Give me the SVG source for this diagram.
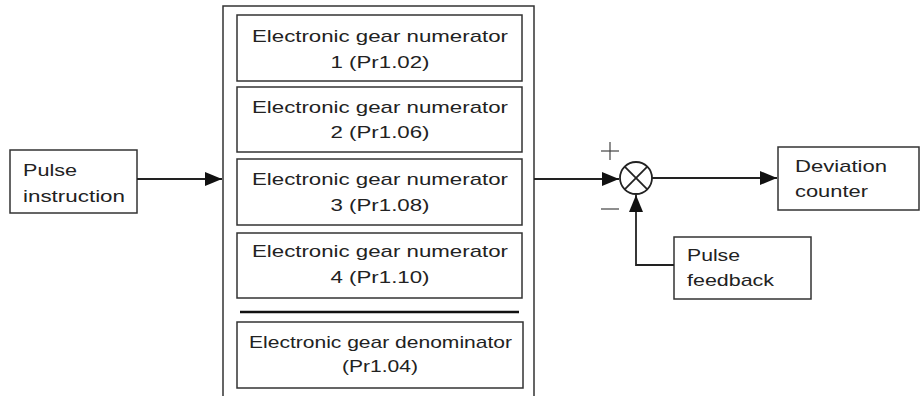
<svg xmlns="http://www.w3.org/2000/svg" width="920" height="396" viewBox="0 0 920 396">
<style>
.box{fill:#fff;stroke:#333;stroke-width:1.5}
.t{font-family:"Liberation Sans",Arial,sans-serif;font-size:17px;fill:#222}
.c{text-anchor:middle}
.ln{fill:none;stroke:#222;stroke-width:1.8}
.thin{fill:none;stroke:#444;stroke-width:1.2}
</style>
<defs>
<marker id="ah" markerUnits="userSpaceOnUse" markerWidth="18" markerHeight="14" refX="17" refY="7" orient="auto">
<path d="M0,0 L17,7 L0,14 Z" fill="#111"/>
</marker>
</defs>
<rect width="920" height="396" fill="#fff"/>
<g id="pulse-instruction">
<rect class="box" x="10" y="150" width="127" height="63"/>
<text class="t" x="23" y="176" textLength="54" lengthAdjust="spacingAndGlyphs">Pulse</text>
<text class="t" x="23" y="202" textLength="102" lengthAdjust="spacingAndGlyphs">instruction</text>
</g>
<g id="gear-block">
<path class="box" d="M223,400 V6 H534 V400" />
</g>
<g id="num1">
<rect class="box" x="237" y="15" width="285" height="66"/>
<text class="t c" x="380" y="42" textLength="256" lengthAdjust="spacingAndGlyphs">Electronic gear numerator</text>
<text class="t c" x="380" y="68" textLength="99" lengthAdjust="spacingAndGlyphs">1 (Pr1.02)</text>
</g>
<g id="num2">
<rect class="box" x="237" y="87" width="285" height="65"/>
<text class="t c" x="380" y="113" textLength="256" lengthAdjust="spacingAndGlyphs">Electronic gear numerator</text>
<text class="t c" x="380" y="138" textLength="99" lengthAdjust="spacingAndGlyphs">2 (Pr1.06)</text>
</g>
<g id="num3">
<rect class="box" x="237" y="159" width="285" height="66"/>
<text class="t c" x="380" y="185" textLength="256" lengthAdjust="spacingAndGlyphs">Electronic gear numerator</text>
<text class="t c" x="380" y="211" textLength="99" lengthAdjust="spacingAndGlyphs">3 (Pr1.08)</text>
</g>
<g id="num4">
<rect class="box" x="237" y="233" width="285" height="65"/>
<text class="t c" x="380" y="257" textLength="256" lengthAdjust="spacingAndGlyphs">Electronic gear numerator</text>
<text class="t c" x="380" y="283" textLength="99" lengthAdjust="spacingAndGlyphs">4 (Pr1.10)</text>
</g>
<g id="fraction-bar">
<line x1="240" y1="312" x2="519" y2="312" stroke="#111" stroke-width="2.5"/>
</g>
<g id="denominator">
<rect class="box" x="237" y="322" width="286" height="66"/>
<text class="t c" x="380.5" y="348" textLength="263" lengthAdjust="spacingAndGlyphs">Electronic gear denominator</text>
<text class="t c" x="380" y="372" textLength="76" lengthAdjust="spacingAndGlyphs">(Pr1.04)</text>
</g>
<g id="summing-junction">
<circle cx="636" cy="178" r="16" fill="#fff" stroke="#222" stroke-width="1.8"/>
<line class="ln" x1="624.7" y1="166.7" x2="647.3" y2="189.3"/>
<line class="ln" x1="647.3" y1="166.7" x2="624.7" y2="189.3"/>
<line class="thin" x1="601" y1="151" x2="619" y2="151"/>
<line class="thin" x1="610" y1="142" x2="610" y2="160"/>
<line class="thin" x1="601" y1="209" x2="619" y2="209"/>
</g>
<g id="deviation-counter">
<rect class="box" x="778" y="147" width="141" height="63"/>
<text class="t" x="795" y="172" textLength="92" lengthAdjust="spacingAndGlyphs">Deviation</text>
<text class="t" x="795" y="197" textLength="73" lengthAdjust="spacingAndGlyphs">counter</text>
</g>
<g id="pulse-feedback">
<rect class="box" x="674" y="237" width="137" height="62"/>
<text class="t" x="687" y="261" textLength="53" lengthAdjust="spacingAndGlyphs">Pulse</text>
<text class="t" x="687" y="286" textLength="87" lengthAdjust="spacingAndGlyphs">feedback</text>
</g>
<g id="connectors">
<line class="ln" x1="137" y1="179" x2="222" y2="179" marker-end="url(#ah)"/>
<line class="ln" x1="534" y1="179" x2="619" y2="179" marker-end="url(#ah)"/>
<line class="ln" x1="652" y1="178" x2="777" y2="178" marker-end="url(#ah)"/>
<path class="ln" d="M674,265 H636 V195" marker-end="url(#ah)"/>
</g>
</svg>
